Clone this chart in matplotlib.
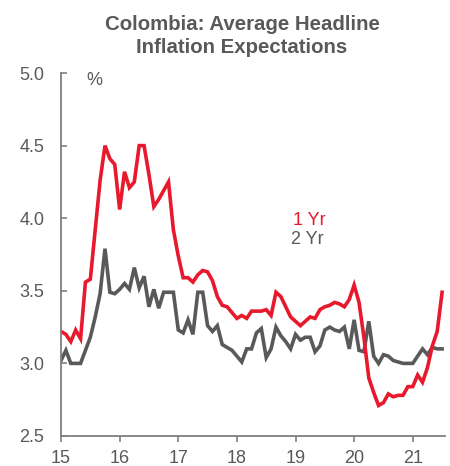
import numpy as np
import matplotlib
matplotlib.use("Agg")
import matplotlib.pyplot as plt

plt.rcParams['font.family'] = ['Liberation Sans', 'DejaVu Sans']

# monthly, Jan 2015 - Jul 2021
start_year = 2015
yr1 = [3.22, 3.20, 3.15, 3.23, 3.17, 3.56, 3.58, 3.92, 4.26, 4.50, 4.41, 4.37,
       4.06, 4.32, 4.21, 4.25, 4.50, 4.50, 4.30, 4.08, 4.13, 4.19, 4.25, 3.92,
       3.74, 3.59, 3.59, 3.56, 3.61, 3.64, 3.63, 3.57, 3.46, 3.40, 3.39, 3.35,
       3.31, 3.33, 3.31, 3.36, 3.36, 3.36, 3.37, 3.33, 3.49, 3.46, 3.39, 3.32,
       3.29, 3.26, 3.29, 3.32, 3.31, 3.37, 3.39, 3.40, 3.42, 3.41, 3.39, 3.44,
       3.54, 3.42, 3.18, 2.90, 2.80, 2.71, 2.73, 2.79, 2.77, 2.78, 2.78, 2.84,
       2.84, 2.92, 2.87, 2.97, 3.12, 3.22, 3.49]
yr2 = [3.02, 3.09, 3.00, 3.00, 3.00, 3.09, 3.18, 3.32, 3.48, 3.79, 3.49, 3.48,
       3.51, 3.55, 3.51, 3.66, 3.52, 3.60, 3.39, 3.51, 3.38, 3.49, 3.49, 3.49,
       3.23, 3.21, 3.30, 3.20, 3.49, 3.49, 3.26, 3.22, 3.26, 3.13, 3.11, 3.09,
       3.05, 3.01, 3.10, 3.10, 3.21, 3.24, 3.04, 3.10, 3.25, 3.19, 3.15, 3.10,
       3.20, 3.16, 3.18, 3.18, 3.08, 3.12, 3.23, 3.25, 3.23, 3.22, 3.25, 3.10,
       3.30, 3.09, 3.08, 3.29, 3.05, 3.00, 3.06, 3.05, 3.02, 3.01, 3.00, 3.00,
       3.00, 3.05, 3.10, 3.06, 3.11, 3.10, 3.10]
years = [2015, 2016, 2017, 2018, 2019, 2020, 2021]
year_labels = ['15', '16', '17', '18', '19', '20', '21']

red = '#E8192C'
grey = '#595959'
axis_grey = '#7f7f7f'

x = start_year + np.arange(len(yr1)) / 12.0

fig = plt.figure(figsize=(4.5, 4.66), dpi=100)
ax = fig.add_axes([0.1356, 0.0644, 0.8533, 0.7789])

ax.plot(x, yr2, color=grey, lw=2.6, solid_joinstyle='miter')
ax.plot(x, yr1, color=red, lw=2.6, solid_joinstyle='miter')

ax.set_xlim(2015, 2021.55)
ax.set_ylim(2.5, 5.0)
ax.set_xticks(years)
ax.set_xticklabels(year_labels)
ax.set_yticks([2.5, 3.0, 3.5, 4.0, 4.5, 5.0])
ax.set_yticklabels(['2.5', '3.0', '3.5', '4.0', '4.5', '5.0'])

for s in ['top', 'right']:
    ax.spines[s].set_visible(False)
for s in ['left', 'bottom']:
    ax.spines[s].set_color(axis_grey)
    ax.spines[s].set_linewidth(1.3)
ax.tick_params(axis='both', colors=axis_grey, labelcolor=grey, labelsize=13,
               width=1.2)
ax.tick_params(axis='x', direction='out', length=4, pad=6)
ax.tick_params(axis='y', direction='in', length=4, pad=12)

ax.text(0.065, 0.979, '%', transform=ax.transAxes, color=grey, fontsize=13,
        ha='left', va='center')
ax.text(0.603, 0.595, '1 Yr', transform=ax.transAxes, color=red, fontsize=13,
        ha='left', va='center')
ax.text(0.600, 0.540, '2 Yr', transform=ax.transAxes, color=grey, fontsize=13,
        ha='left', va='center')

fig.text(0.538, 0.968, 'Colombia: Average Headline\nInflation Expectations',
         ha='center', va='top', fontsize=14.7, fontweight='bold', color=grey,
         linespacing=1.3)

fig.savefig('out.png', dpi=100)
